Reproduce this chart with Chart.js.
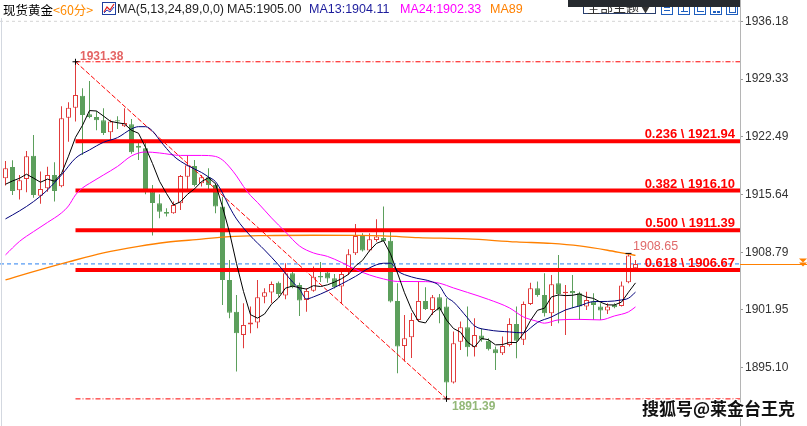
<!DOCTYPE html>
<html>
<head>
<meta charset="utf-8">
<script src="https://cdn.jsdelivr.net/npm/chart.js@4.4.1/dist/chart.umd.min.js"></script>
<style>
html,body{margin:0;padding:0;background:#fff;width:807px;height:426px;overflow:hidden;}
#wrap{position:relative;width:807px;height:426px;font-family:"Liberation Sans",Arial,sans-serif;}
#c{position:absolute;left:0;top:0;}
.hd{position:absolute;top:2px;font-size:12.5px;line-height:15px;white-space:nowrap;}
.cjk{font-family:"Noto Sans CJK SC","Liberation Sans",sans-serif;}
#leftline{position:absolute;left:1px;top:18px;width:1px;height:408px;background:#d3d8e0;}
#theme{position:absolute;left:583px;top:-3px;width:73px;height:17px;border:1px solid #2a3f6e;font-size:13px;line-height:17px;color:#333;text-align:center;box-sizing:border-box;}
#darkbar{position:absolute;left:568px;top:0;width:172px;height:7px;background:#262a2f;}
.ico{position:absolute;top:3px;width:12px;height:12px;border:1px solid #1f5fbf;box-sizing:border-box;background:#fff;}
.ico i{position:absolute;background:#1f5fbf;}
#wm{position:absolute;left:642px;top:398px;font-size:17px;font-weight:bold;color:#111;line-height:20px;
 text-shadow:-1px -1px 0 #fff,1px -1px 0 #fff,-1px 1px 0 #fff,1px 1px 0 #fff,0 1px 0 #fff,0 -1px 0 #fff,1px 0 0 #fff,-1px 0 0 #fff;}
</style>
</head>
<body>
<div id="wrap">
<canvas id="c" width="807" height="426"></canvas>
<div id="leftline"></div>
<span class="hd cjk" style="left:3px;color:#000;font-size:12.5px;">现货黄金</span>
<span class="hd cjk" style="left:53px;color:#ff8a00;font-size:12.5px;">&lt;60分&gt;</span>
<svg style="position:absolute;left:102px;top:2px" width="14" height="13" viewBox="0 0 14 13">
 <rect x="0.5" y="0.5" width="13" height="12" fill="#fff" stroke="#1f3f9f"/>
 <polyline points="2,10 5,5 8,8 12,2" fill="none" stroke="#e02020" stroke-width="1.2"/>
 <polyline points="2,11 5,8 8,10 12,5" fill="none" stroke="#2040c0" stroke-width="1"/>
</svg>
<span class="hd" style="left:117px;color:#222;">MA(5,13,24,89,0,0)</span>
<span class="hd" style="left:227px;color:#222;">MA5:1905.00</span>
<span class="hd" style="left:309px;color:#1c1c9c;">MA13:1904.11</span>
<span class="hd" style="left:400px;color:#ff00ff;">MA24:1902.33</span>
<span class="hd" style="left:490px;color:#ff8000;">MA89</span>
<div id="theme" class="cjk">全部主题▼</div>
<div class="ico" style="left:661px"><i style="left:2px;top:3px;width:6px;height:1px"></i><i style="left:2px;top:6px;width:6px;height:1px"></i></div>
<div class="ico" style="left:678px"><i style="left:2px;top:7px;width:7px;height:1px"></i><i style="left:4px;top:2px;width:1px;height:6px"></i></div>
<div class="ico" style="left:694px"><i style="left:2px;top:7px;width:7px;height:1px"></i><i style="left:2px;top:3px;width:1px;height:5px"></i></div>
<div class="ico" style="left:710px"><i style="left:2px;top:7px;width:3px;height:2px"></i><i style="left:6px;top:7px;width:3px;height:2px"></i></div>
<div class="ico" style="left:726px"><i style="left:2px;top:2px;width:5px;height:5px;background:none;border:1px solid #1f5fbf"></i></div>
<div id="darkbar"></div>
<div id="wm" class="cjk">搜狐号@莱金台王克</div>
</div>
<script>
// ---- data ----
const opens  = [1917.56,1918.90,1916.14,1917.48,1920.24,1915.50,1916.38,1917.95,1916.61,1924.75,1925.94,1927.36,1925.15,1924.83,1924.44,1923.02,1924.44,1923.73,1923.97,1921.43,1921.12,1916.00,1914.60,1913.57,1913.41,1914.60,1917.75,1919.02,1916.97,1917.68,1916.77,1914.20,1905.50,1901.74,1898.98,1900.20,1900.44,1903.52,1904.00,1905.18,1903.64,1906.30,1904.91,1903.13,1904.23,1905.98,1906.37,1905.70,1904.71,1906.69,1908.67,1910.84,1908.98,1910.25,1910.48,1910.16,1903.01,1897.67,1898.71,1900.76,1903.01,1901.94,1903.45,1902.34,1893.32,1898.18,1899.89,1897.52,1898.90,1898.30,1897.28,1896.81,1897.79,1900.28,1898.39,1902.66,1904.52,1903.72,1901.55,1905.11,1903.92,1904.20,1903.92,1902.34,1902.93,1902.34,1901.86,1902.54,1902.42,1905.23,1906.89];
const highs  = [1919.62,1919.70,1917.95,1920.80,1922.70,1918.35,1918.94,1919.46,1926.10,1926.58,1931.38,1928.24,1929.10,1925.55,1925.87,1924.50,1924.92,1925.87,1924.60,1922.11,1921.90,1916.77,1915.67,1914.01,1914.79,1917.95,1920.33,1919.73,1917.95,1918.75,1916.97,1915.38,1907.87,1903.72,1902.74,1902.34,1905.50,1904.52,1905.30,1905.30,1907.48,1906.49,1905.18,1904.52,1907.08,1907.64,1906.89,1906.21,1906.69,1909.14,1912.14,1911.04,1911.04,1912.70,1914.20,1911.52,1905.11,1901.35,1901.59,1905.30,1904.64,1903.72,1903.84,1903.33,1899.37,1900.56,1902.34,1900.96,1899.77,1898.59,1897.59,1898.78,1900.96,1902.34,1902.93,1905.18,1905.30,1906.30,1906.09,1908.47,1904.91,1906.09,1904.11,1904.11,1903.92,1902.74,1902.74,1902.74,1905.30,1908.65,1907.87];
const lows   = [1916.69,1915.58,1915.03,1915.90,1915.26,1914.55,1915.97,1914.79,1916.50,1921.90,1924.28,1920.33,1924.68,1923.26,1922.70,1922.11,1923.41,1923.65,1920.48,1919.73,1915.67,1910.76,1912.82,1913.01,1913.35,1913.80,1915.97,1916.57,1916.57,1915.97,1913.41,1902.54,1900.96,1894.63,1897.40,1899.18,1899.77,1902.74,1902.74,1903.52,1903.21,1904.52,1901.23,1901.74,1904.11,1905.26,1905.18,1904.47,1902.74,1906.09,1908.47,1908.86,1908.86,1910.04,1910.04,1902.83,1894.44,1895.81,1896.25,1900.60,1901.94,1901.35,1900.37,1891.39,1893.20,1897.20,1896.41,1896.41,1898.18,1897.12,1894.83,1896.61,1897.59,1896.22,1897.79,1902.54,1903.52,1901.15,1900.05,1900.37,1898.98,1902.15,1900.76,1901.94,1900.76,1900.76,1901.47,1902.15,1902.34,1905.10,1906.85];
const closes = [1918.75,1916.06,1917.33,1920.17,1915.58,1916.29,1917.95,1916.06,1924.68,1925.94,1927.44,1925.07,1924.83,1924.44,1922.94,1924.28,1924.28,1924.12,1920.65,1921.19,1915.97,1914.63,1913.60,1913.36,1914.40,1917.84,1919.11,1916.77,1917.68,1916.77,1914.20,1905.50,1901.62,1899.18,1900.16,1900.44,1903.45,1904.04,1905.03,1903.84,1906.30,1904.64,1903.05,1904.20,1905.89,1905.80,1905.66,1904.64,1906.21,1908.55,1910.72,1908.98,1910.33,1910.64,1910.13,1902.93,1897.59,1898.59,1900.76,1903.01,1902.06,1903.45,1901.86,1893.32,1897.99,1899.89,1897.52,1898.98,1898.39,1897.28,1896.81,1897.67,1900.28,1898.30,1902.66,1904.52,1903.72,1901.55,1904.99,1903.84,1904.11,1903.92,1902.34,1903.13,1902.54,1901.86,1902.34,1902.26,1904.83,1908.40,1907.40];

const ma5 = [1916.85,1917.24,1917.56,1918.04,1917.58,1917.09,1917.46,1917.21,1918.11,1920.18,1922.41,1923.84,1925.59,1925.54,1924.94,1924.31,1924.15,1924.01,1923.25,1922.90,1921.24,1919.31,1917.21,1915.75,1914.39,1914.77,1915.66,1916.30,1917.16,1917.63,1916.91,1914.18,1911.15,1907.45,1904.13,1901.38,1900.97,1901.45,1902.62,1903.36,1904.53,1904.77,1904.57,1904.41,1904.82,1904.72,1904.92,1905.24,1905.64,1906.17,1907.16,1907.82,1908.96,1909.84,1910.16,1908.60,1906.32,1903.98,1902.00,1900.58,1900.40,1901.57,1902.23,1900.74,1899.74,1899.30,1898.12,1897.54,1898.55,1898.41,1897.80,1897.83,1898.09,1898.07,1899.14,1900.69,1901.90,1902.15,1903.49,1903.72,1903.64,1903.68,1903.84,1903.47,1903.31,1902.86,1902.54,1902.53,1902.87,1904.04,1905.15];

const ma13Idx = [0,2,4,6,8,10,12,14,16,18,19,20,21,22,24,26,28,29,30,31,32,33,35,37,39,41,42,43,44,46,48,50,52,54,55,56,58,61,62,63,64,66,67,69,72,74,75,76,78,80,82,84,86,88,89,90];
const ma13Val = [1912.74,1913.69,1914.79,1916.18,1917.95,1919.94,1920.92,1921.83,1922.38,1923.41,1923.68,1923.68,1923.17,1922.11,1920.21,1919.08,1918.25,1917.72,1917.16,1915.82,1914.16,1912.74,1910.72,1909.06,1907.28,1905.26,1904.43,1903.25,1903.49,1904.20,1905.03,1905.92,1906.93,1907.48,1907.48,1906.57,1905.86,1905.26,1904.79,1903.49,1902.89,1901.00,1900.05,1899.57,1899.33,1899.22,1899.81,1900.46,1901.11,1901.94,1902.42,1902.93,1902.95,1903.13,1903.33,1904.05];

const ma24Idx = [0,2,4,6,8,9,10,11,12,14,16,18,20,22,25,28,30,31,32,33,34,35,36,38,40,42,44,46,48,50,52,54,56,60,62,64,66,69,72,74,76,77,79,82,85,87,89,90];
const ma24Val = [1908.47,1910.07,1911.23,1912.32,1913.45,1914.28,1915.58,1916.41,1916.95,1917.95,1918.96,1920.21,1920.68,1920.56,1920.27,1920.27,1920.15,1919.73,1918.90,1917.84,1916.59,1915.52,1914.69,1912.86,1911.19,1909.53,1908.70,1908.29,1907.58,1906.75,1906.09,1905.62,1905.32,1905.30,1905.11,1904.55,1904.02,1903.19,1902.18,1901.11,1900.58,1900.37,1900.76,1900.82,1900.76,1901.23,1901.71,1902.30];

const ma89Idx = [0,4,9,14,19,23,28,32,37,44,50,54,59,66,73,78,82,86,89,90];
const ma89Val = [1905.50,1906.49,1907.64,1908.70,1909.48,1909.97,1910.33,1910.64,1910.76,1910.80,1910.78,1910.72,1910.52,1910.36,1910.01,1909.83,1909.53,1909.02,1908.55,1908.41];

const tickVals = [1936.18,1929.33,1922.49,1915.64,1908.79,1901.95,1895.10];
const fibRatios = ['0.236','0.382','0.500','0.618'];
const fibPrices = [1921.94,1916.10,1911.39,1906.67];
const swingHigh = {i:10, price:1931.38};
const swingLow  = {i:63, price:1891.39};
const lastHigh  = {i:89, price:1908.65};

// ---- view ----
const X_MIN = -0.7857, X_MAX = 104.9286;
const Y_MAX = 1938.707, Y_MIN = 1888.173;
const RED = '#e03c3c', GREEN = '#5c9f5c';

const idx = closes.map((_, i) => i);
const up = idx.map(i => closes[i] >= opens[i]);
const wickData = idx.map(i => ({x: i, y: [lows[i], highs[i]]}));
const bodyData = idx.map(i => ({x: i, y: [opens[i], closes[i]]}));
const pairs = (ix, v) => ix.map((x, k) => ({x, y: v[k]}));
const hline = (p, x0, x1) => [{x: x0, y: p}, {x: x1, y: p}];
const lastClose = closes[closes.length - 1];

const datasets = [
  {type:'scatter', data:[{x:swingHigh.i,y:swingHigh.price},{x:swingLow.i,y:swingLow.price},{x:lastHigh.i,y:lastHigh.price}],
   pointStyle:['cross','cross','line'], pointRadius:3, borderColor:'#000', backgroundColor:'#000', borderWidth:1, order:0},
  {type:'line', data: idx.map(i => ({x:i, y:ma5[i]})), borderColor:'#000', borderWidth:1, pointRadius:0, tension:0, order:1},
  {type:'line', data: pairs(ma13Idx, ma13Val), borderColor:'#00007a', borderWidth:1, pointRadius:0, cubicInterpolationMode:'monotone', order:2},
  {type:'line', data: pairs(ma24Idx, ma24Val), borderColor:'#ff00ff', borderWidth:1, pointRadius:0, cubicInterpolationMode:'monotone', order:3},
  {type:'line', data: pairs(ma89Idx, ma89Val), borderColor:'#ff8000', borderWidth:1.3, pointRadius:0, cubicInterpolationMode:'monotone', order:4},
];
fibPrices.forEach(p => datasets.push({type:'line', data: hline(p, swingHigh.i, X_MAX), borderColor:'#ff0000', borderWidth:4, pointRadius:0, order:5}));
datasets.push({type:'line', data: hline(swingHigh.price, swingHigh.i, X_MAX), borderColor:'#ff0000', borderWidth:1, borderDash:[5,2,1,2], pointRadius:0, order:6});
datasets.push({type:'line', data: hline(swingLow.price, swingHigh.i, X_MAX), borderColor:'#ff0000', borderWidth:1, borderDash:[5,2,1,2], pointRadius:0, order:6});
datasets.push({type:'line', data: [{x:swingHigh.i,y:swingHigh.price},{x:swingLow.i,y:swingLow.price}], borderColor:'#ff0000', borderWidth:1, borderDash:[5,2], pointRadius:0, order:6});
datasets.push({type:'bar', data: bodyData, backgroundColor: up.map(u => u ? '#ffffff' : GREEN), borderColor: up.map(u => u ? RED : GREEN),
  borderWidth:1, borderSkipped:false, barThickness:5, grouped:false, minBarLength:1, inflateAmount:0, order:7});
datasets.push({type:'bar', data: wickData, backgroundColor: up.map(u => u ? RED : GREEN), borderWidth:0, barThickness:1, grouped:false, inflateAmount:0, order:8});
datasets.push({type:'line', data: hline(lastClose, X_MIN, X_MAX), borderColor:'#2a80f0', borderWidth:1, borderDash:[4,3], pointRadius:0, order:9});
datasets.push({type:'line', data: hline(tickVals[0], X_MIN, X_MAX), borderColor:'#d4d4d4', borderWidth:1, borderDash:[3,3], pointRadius:0, order:10});

const annot = {
  id: 'annot',
  afterDatasetsDraw(chart) {
    const {ctx, chartArea} = chart;
    const x = chart.scales.x, y = chart.scales.y;
    ctx.save();
    ctx.textBaseline = 'alphabetic';
    ctx.font = 'bold 13px "Liberation Sans", Arial, sans-serif';
    ctx.fillStyle = '#ff0000';
    ctx.textAlign = 'right';
    fibPrices.forEach((p, k) => {
      ctx.fillText(fibRatios[k] + ' \\ ' + p.toFixed(2), chartArea.right - 5, y.getPixelForValue(p) - 3);
    });
    ctx.textAlign = 'left';
    ctx.font = 'bold 12px "Liberation Sans", Arial, sans-serif';
    ctx.fillStyle = '#e46464';
    ctx.fillText(swingHigh.price.toFixed(2), x.getPixelForValue(swingHigh.i) + 4.5, y.getPixelForValue(swingHigh.price) - 2);
    ctx.fillStyle = '#93b878';
    ctx.fillText(swingLow.price.toFixed(2), x.getPixelForValue(swingLow.i) + 5.5, y.getPixelForValue(swingLow.price) + 11);
    ctx.font = '12.5px "Liberation Sans", Arial, sans-serif';
    ctx.fillStyle = '#e06a6a';
    ctx.fillText(lastHigh.price.toFixed(2), x.getPixelForValue(lastHigh.i) + 4.5, y.getPixelForValue(lastHigh.price) - 3);
    const py = Math.round(y.getPixelForValue(lastClose)) + 0.5;
    ctx.strokeStyle = '#ff8000'; ctx.lineWidth = 1;
    ctx.beginPath(); ctx.moveTo(chartArea.right, py); ctx.lineTo(chart.width, py); ctx.stroke();
    ctx.fillStyle = '#ff8000';
    [py - 6, py - 2].forEach(t => { ctx.beginPath(); ctx.moveTo(799, t); ctx.lineTo(807, t); ctx.lineTo(803, t + 4); ctx.closePath(); ctx.fill(); });
    ctx.restore();
  }
};

Chart.defaults.font.family = '"Liberation Sans", Arial, sans-serif';
new Chart(document.getElementById('c'), {
  type: 'bar',
  data: {datasets},
  options: {
    responsive: false, animation: false, devicePixelRatio: 1,
    layout: {padding: 0, autoPadding: false},
    plugins: {legend: {display: false}, tooltip: {enabled: false}},
    scales: {
      x: {type: 'linear', display: false, min: X_MIN, max: X_MAX, offset: false},
      y: {
        type: 'linear', position: 'right', min: Y_MIN, max: Y_MAX,
        afterBuildTicks: s => { s.ticks = tickVals.map(v => ({value: v})); },
        afterFit: s => { s.width = 67; s.paddingTop = 0; s.paddingBottom = 0; },
        ticks: {color: '#333', font: {size: 12}, padding: 2, autoSkip: false, callback: v => Number(v).toFixed(2)},
        grid: {drawOnChartArea: false, tickLength: 3, tickColor: '#999'},
        border: {display: true, color: '#b5b5b5', dash: [1, 3]}
      }
    }
  },
  plugins: [annot]
});
</script>
</body>
</html>
